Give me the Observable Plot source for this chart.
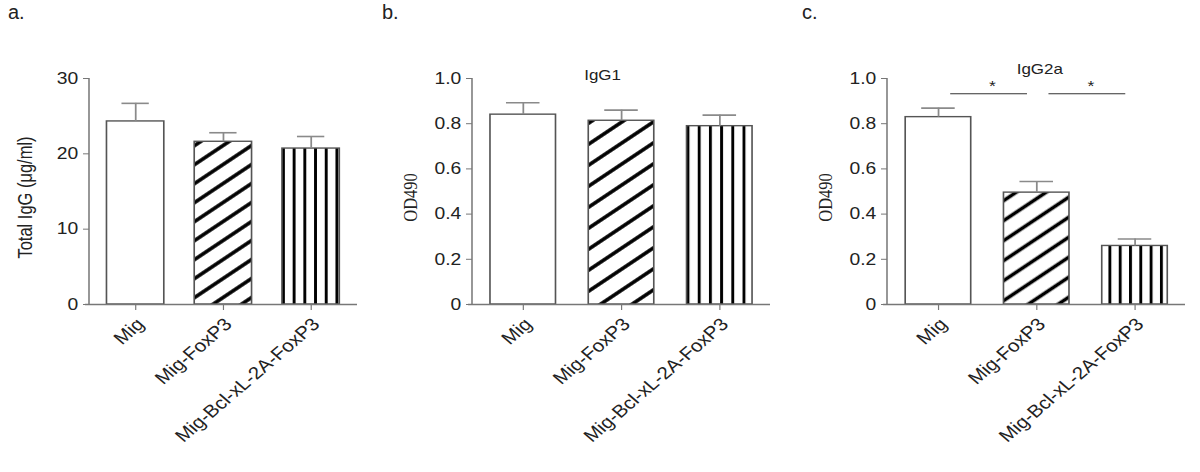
<!DOCTYPE html>
<html><head><meta charset="utf-8">
<script src="https://cdn.jsdelivr.net/npm/d3@7"></script>
<script src="https://cdn.jsdelivr.net/npm/@observablehq/plot@0.6"></script>
<style>
body{margin:0;background:#fff;font-family:"Liberation Sans",Arial,sans-serif;}
#wrap{position:relative;width:1200px;height:472px;overflow:hidden;background:#fff;}
.panel{position:absolute;top:0;transform-origin:0 0;}
.plabel{position:absolute;top:1px;font-size:20px;color:#222;font-family:"Liberation Sans",Arial,sans-serif;}
</style></head><body><div id="wrap"></div>
<script>
// ---- data ----
const groups = ["Mig", "Mig-FoxP3", "Mig-Bcl-xL-2A-FoxP3"];
const fillKinds = ["plain", "diag", "vert"];
const totalIgG = [24.3, 21.6, 20.7];
const totalIgGErr = [2.4, 1.2, 1.6];
const igg1 = [0.840, 0.813, 0.789];
const igg1Err = [0.053, 0.047, 0.049];
const igg2a = [0.829, 0.495, 0.259];
const igg2aErr = [0.040, 0.049, 0.031];
const yTicksA = [0, 10, 20, 30];
const yTicksOD = [0, 0.2, 0.4, 0.6, 0.8, 1.0];
const sigFrom = ["Mig", "Mig-FoxP3"];
const sigTo = ["Mig-FoxP3", "Mig-Bcl-xL-2A-FoxP3"];
const sigLevel = [0.932, 0.932];
const sigText = ["*", "*"];

// the reference figure is stretched horizontally; draw narrower and stretch
const S = 1.17;
const FONT = "'Liberation Sans', Arial, sans-serif";
const wrap = document.getElementById("wrap");

function makePanel(cfg) {
  const id = cfg.id;
  const rows = groups.map((g, i) => ({
    group: g,
    value: cfg.values[i],
    err: cfg.errs[i],
    pattern: fillKinds[i] === "plain" ? "white" : `url(#${fillKinds[i]}-${id})`
  }));
  const marks = [
    Plot.barY(rows, {x: "group", y: "value", fill: "pattern", stroke: "#555", strokeWidth: 1.4}),
    Plot.ruleX(rows, {x: "group", y1: "value", y2: d => d.value + d.err, stroke: "#8a8a8a", strokeWidth: 1.5}),
    Plot.tickY(rows, {x: "group", y: d => d.value + d.err, stroke: "#8a8a8a", strokeWidth: 1.6, inset: cfg.capInset / S}),
    Plot.ruleY([0], {stroke: "#777", strokeWidth: 1.3, insetLeft: -4 / S}),
    Plot.axisY({ticks: cfg.yTicks, tickFormat: cfg.tickFormat, tickSize: 6 / S, tickPadding: 4.5, label: null,
      stroke: "#777", fill: "#222", fontSize: 16.5}),
    Plot.axisX({tickSize: 6, tickRotate: -45, tickPadding: 5, label: null, stroke: "#777", fill: "#222",
      fontSize: 17.5, textStroke: null}),
    Plot.text([cfg.ylabel], {frameAnchor: "left", textAnchor: "middle", rotate: -90, dx: cfg.ylabelDx / S, dy: 6,
      fontSize: 16.5, fill: "#222", fontFamily: cfg.ylabelFont})
  ];
  if (cfg.title) {
    marks.push(Plot.text([cfg.title], {x: () => groups[1], y: () => cfg.yMax, dx: cfg.titleDx / S, dy: cfg.titleDy,
      fontSize: 14.5, fill: "#222"}));
  }
  if (cfg.sig) {
    const sig = sigFrom.map((f, i) => ({from: f, to: sigTo[i], y: sigLevel[i], t: sigText[i]}));
    marks.push(Plot.ruleY(sig, {x1: "from", x2: "to", y: "y", stroke: "#333", strokeWidth: 1,
      insetLeft: 45 / S, insetRight: 42 / S}));
    marks.push(Plot.text(sig, {x: "from", y: "y", text: "t", dx: 54 / S, dy: -8, fontSize: 15, fill: "#222"}));
  }
  const width = cfg.width / S, marginLeft = cfg.marginLeft / S, marginRight = cfg.marginRight / S;
  const plot = Plot.plot({
    width, height: 472,
    marginTop: 78, marginBottom: 168, marginLeft, marginRight,
    x: {domain: groups, paddingInner: cfg.pi, paddingOuter: cfg.po, label: null, axis: null},
    y: {domain: [0, cfg.yMax], label: null, axis: null},
    color: {type: "identity"},
    style: {fontFamily: FONT, fontSize: "16px", background: "white", overflow: "visible"},
    marks
  });
  const svg = d3.select(plot);
  const x = plot.scale("x"), y = plot.scale("y");
  const xb = x.apply(groups[2]);
  // nudge rotated category labels to sit like the reference (down-right of the tick)
  svg.selectAll("[aria-label='x-axis tick label']").attr("transform", function () {
    const t = d3.select(this).attr("transform") || "";
    return `translate(${5 / S},6) ` + t;
  });
  const defs = svg.insert("defs", ":first-child");
  // diagonal stripes
  const P = cfg.diagSpacing * Math.cos(cfg.diagAngle * Math.PI / 180);
  const pd = defs.append("pattern").attr("id", `diag-${id}`).attr("patternUnits", "userSpaceOnUse")
    .attr("width", 40).attr("height", P)
    .attr("patternTransform", `rotate(${-cfg.diagAngle})`);
  pd.append("rect").attr("width", 40).attr("height", P).attr("fill", "white");
  pd.append("rect").attr("y", P / 2 - 1.7).attr("width", 40).attr("height", 3.4).attr("fill", "#000");
  // vertical stripes
  const vP = cfg.vP / S;
  const pv = defs.append("pattern").attr("id", `vert-${id}`).attr("patternUnits", "userSpaceOnUse")
    .attr("x", xb + cfg.vOffset / S).attr("y", 0).attr("width", vP).attr("height", 10);
  pv.append("rect").attr("width", vP).attr("height", 10).attr("fill", "white");
  pv.append("rect").attr("x", 0).attr("width", 2.9 / S).attr("height", 10).attr("fill", "#000");
  // y axis line (from the library's y scale)
  svg.append("line")
    .attr("x1", marginLeft).attr("x2", marginLeft)
    .attr("y1", y.apply(0)).attr("y2", y.apply(cfg.yMax))
    .attr("stroke", "#777").attr("stroke-width", 1.3);
  const div = document.createElement("div");
  div.className = "panel";
  div.style.left = cfg.left + "px";
  div.style.transform = `scaleX(${S})`;
  div.appendChild(plot);
  wrap.appendChild(div);
  const lab = document.createElement("div");
  lab.className = "plabel";
  lab.style.left = cfg.labelLeft + "px";
  lab.textContent = cfg.label;
  wrap.appendChild(lab);
}

makePanel({id: "a", left: 0, width: 380, marginLeft: 89, marginRight: 23, pi: 0.34, po: 0.18,
  values: totalIgG, errs: totalIgGErr, yMax: 30, yTicks: yTicksA, tickFormat: d => String(d),
  ylabel: "Total IgG (μg/ml)", ylabelFont: FONT, ylabelDx: -64,
  capInset: 15, diagSpacing: 19, diagAngle: 38, vP: 10.7, vOffset: 0, label: "a.", labelLeft: 8});

makePanel({id: "b", left: 380, width: 400, marginLeft: 92, marginRight: 10, pi: 0.333, po: 0.167,
  values: igg1, errs: igg1Err, yMax: 1.0, yTicks: yTicksOD, tickFormat: d => d === 0 ? "0" : d3.format(".1f")(d),
  ylabel: "OD490", ylabelFont: "'Liberation Serif', 'Times New Roman', serif", ylabelDx: -62,
  title: "IgG1", titleDx: -19, titleDy: -3,
  capInset: 16, diagSpacing: 21, diagAngle: 38, vP: 11.2, vOffset: 0, label: "b.", labelLeft: 382});

makePanel({id: "c", left: 780, width: 420, marginLeft: 107, marginRight: 15, pi: 0.333, po: 0.167,
  values: igg2a, errs: igg2aErr, yMax: 1.0, yTicks: yTicksOD, tickFormat: d => d === 0 ? "0" : d3.format(".1f")(d),
  ylabel: "OD490", ylabelFont: "'Liberation Serif', 'Times New Roman', serif", ylabelDx: -62,
  title: "IgG2a", titleDx: 3, titleDy: -9, sig: true,
  capInset: 16, diagSpacing: 20, diagAngle: 38, vP: 10.3, vOffset: 6.7, label: "c.", labelLeft: 802});
</script></body></html>
